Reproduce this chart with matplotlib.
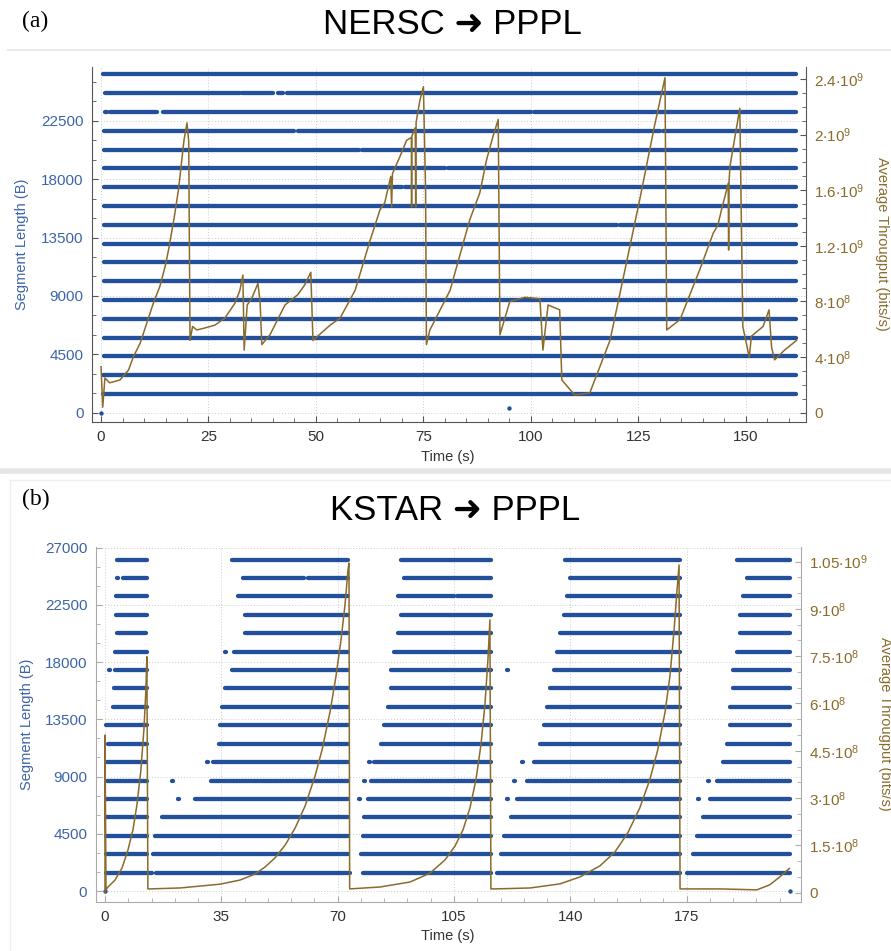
import matplotlib.pyplot as plt
import numpy as np
from matplotlib.collections import LineCollection
from matplotlib.ticker import FixedLocator, MultipleLocator

plt.rcParams['font.family'] = ['Liberation Sans', 'DejaVu Sans']
plt.rcParams['mathtext.fontset'] = 'custom'
plt.rcParams['mathtext.rm'] = 'Liberation Sans'

DOT = '#23509a'
BROWN = '#8a6b2c'
BLUE_TXT = '#3d64a8'
MSS = 1448

# ---------------- (a) NERSC -> PPPL ----------------
# segment-length rows: level (multiples of MSS) -> runs of dense points (time, s)
a_runs = {
    18: [(0.4, 161.6)],
    17: [(0.9, 32.3), (32.9, 40.0), (41.2, 42.4), (43.2, 161.6)],
    16: [(0.9, 1.5), (2.2, 13.0), (14.5, 100.0), (100.8, 161.6)],
    15: [(0.7, 45.0), (45.8, 130.0), (130.8, 161.6)],
    14: [(0.7, 60.0), (60.8, 161.6)],
    13: [(0.7, 80.0), (80.8, 161.6)],
    12: [(0.7, 70.0), (70.8, 161.6)],
    11: [(0.7, 161.6)],
    10: [(0.7, 120.0), (120.8, 161.6)],
    9: [(0.7, 161.6)],
    8: [(0.7, 161.6)],
    7: [(0.7, 161.6)],
    6: [(0.7, 161.6)],
    5: [(0.7, 161.6)],
    4: [(0.7, 161.6)],
    3: [(0.7, 161.6)],
    2: [(0.5, 161.6)],
    1: [(0.5, 161.6)],
}
a_dot_t = [0.0, 94.8]
a_dot_len = [0, 340]

# average throughput (1e9 bits/s)
a_time = [0.0, 0.4, 0.9, 2.0, 4.4, 6.4, 7.5, 9.1, 10.6, 12.2, 13.7, 14.9, 15.7, 17.0,
          18.0, 19.3, 20.0, 20.4, 20.7, 21.3, 22.3, 24.2, 26.5, 28.8, 31.2, 32.3, 33.0,
          33.3, 34.0, 35.1, 36.5, 37.0, 37.4, 39.3, 42.8, 45.8, 47.4, 48.8, 49.3, 53.3,
          55.6, 59.1, 62.6, 64.9, 66.0, 67.4, 67.6, 67.8, 69.5, 71.1, 72.2, 72.25, 72.3,
          73.1, 73.2, 73.3, 74.2, 75.0, 75.5, 75.7, 76.5, 81.2, 85.8, 88.1, 89.7, 91.2,
          92.4, 92.8, 95.1, 98.6, 102.1, 102.8, 104.0, 106.7, 107.2, 110.2, 113.7,
          118.4, 121.9, 125.3, 128.8, 131.2, 131.6, 134.7, 139.3, 142.4, 143.5, 144.5,
          145.1, 145.9, 146.0, 146.1, 146.3, 148.6, 149.3, 150.8, 151.3, 154.0, 155.4,
          156.0, 156.7, 159.0, 161.8]
a_thru = [0.33, 0.04, 0.25, 0.215, 0.235, 0.307, 0.40, 0.50, 0.64, 0.79, 0.91, 1.05, 1.17, 1.40,
          1.60, 1.96, 2.085, 1.95, 0.52, 0.62, 0.595, 0.61, 0.63, 0.68, 0.79, 0.88, 0.99,
          0.45, 0.775, 0.825, 0.93, 0.80, 0.49, 0.56, 0.775, 0.85, 0.92, 1.01, 0.52, 0.63,
          0.68, 0.88, 1.24, 1.46, 1.51, 1.70, 1.48, 1.72, 1.84, 1.96, 1.98, 1.48, 1.99,
          2.05, 1.48, 2.09, 2.25, 2.345, 1.60, 0.49, 0.595, 0.88, 1.39, 1.58, 1.82, 1.99,
          2.11, 0.56, 0.80, 0.83, 0.82, 0.45, 0.775, 0.74, 0.235, 0.127, 0.142,
          0.52, 1.03, 1.53, 2.07, 2.41, 0.595, 0.67, 1.03, 1.29, 1.35, 1.48,
          1.55, 1.65, 1.17, 1.66, 1.77, 2.19, 0.62, 0.40, 0.55, 0.62, 0.74,
          0.47, 0.38, 0.45, 0.52]

# ---------------- (b) KSTAR -> PPPL ----------------
b_runs = {
    18: [(3.5, 12.5), (38.3, 73.0), (89.0, 116.0), (138.5, 173.0), (190.0, 206.0)],
    17: [(3.7, 3.9), (5.5, 12.5), (41.5, 60.0), (61.0, 73.0), (90.0, 116.0), (140.0, 173.0), (193.0, 206.0)],
    16: [(3.4, 12.5), (37.5, 37.7), (40.0, 73.0), (88.0, 105.0), (106.0, 116.0), (139.0, 173.0), (192.0, 206.0)],
    15: [(3.2, 12.5), (42.1, 73.0), (89.0, 116.0), (138.0, 173.0), (191.0, 206.0)],
    14: [(3.6, 12.3), (35.7, 35.9), (42.1, 73.0), (88.0, 116.0), (137.0, 173.0), (191.0, 206.0)],
    13: [(3.0, 12.5), (36.2, 36.4), (38.8, 73.0), (87.0, 116.0), (136.0, 173.0), (190.0, 206.0)],
    12: [(1.2, 1.4), (3.0, 12.6), (37.2, 37.4), (38.3, 73.0), (86.0, 116.0), (121.0, 121.2),
         (135.0, 173.0), (189.0, 206.0)],
    11: [(2.8, 12.5), (36.2, 73.0), (86.0, 116.0), (134.0, 173.0), (189.0, 206.0)],
    10: [(2.4, 12.5), (35.2, 73.0), (85.0, 116.0), (133.0, 173.0), (188.0, 206.0)],
    9: [(0.3, 12.5), (34.7, 73.0), (84.0, 116.0), (132.0, 173.0), (188.0, 206.0)],
    8: [(0.8, 12.5), (34.3, 73.0), (83.0, 116.0), (131.0, 173.0), (187.0, 206.0)],
    7: [(0.6, 12.3), (25.5, 25.7), (30.8, 31.0), (32.5, 73.0), (79.5, 79.7), (81.0, 116.0),
        (125.5, 125.7), (129.0, 173.0), (186.0, 206.0)],
    6: [(0.5, 12.5), (20.3, 20.5), (28.8, 29.0), (31.8, 73.0), (78.0, 78.2), (80.0, 116.0),
        (123.0, 123.2), (127.0, 173.0), (181.5, 181.7), (184.0, 206.0)],
    5: [(0.4, 12.5), (19.5, 19.7), (22.0, 22.2), (27.0, 73.0), (76.5, 76.7), (79.0, 116.0),
        (121.0, 121.2), (124.0, 173.0), (178.5, 178.7), (182.0, 206.0)],
    4: [(0.4, 12.5), (17.0, 73.0), (78.0, 116.0), (122.0, 173.0), (180.0, 206.0)],
    3: [(0.3, 12.5), (15.0, 73.0), (77.5, 116.0), (120.0, 173.0), (178.0, 206.0)],
    2: [(0.3, 12.5), (14.5, 73.0), (77.0, 116.0), (119.0, 173.0), (177.0, 206.0)],
    1: [(0.3, 14.0), (15.3, 73.7), (77.6, 116.0), (118.0, 173.0), (175.0, 206.0)],
}
b_dot_t = [0.0, 206.0]
b_dot_len = [0, 0]

b_time = [0.0, 0.0, 0.3, 0.9, 3.0, 5.1, 6.9, 8.4, 9.6, 10.8, 11.7, 12.3, 12.6, 12.9,
          13.5, 22.6, 28.6, 34.6, 40.6, 45.1, 48.1, 51.1, 54.2, 57.2, 60.2, 63.2, 65.3,
          67.7, 69.5, 71.0, 72.2, 73.1, 73.4, 73.6,
          82.7, 91.8, 97.8, 102.3, 105.3, 107.7, 109.8, 111.6, 113.1, 114.3, 115.2,
          115.8, 116.1,
          117.3, 127.9, 136.9, 142.9, 148.9, 153.4, 157.3, 160.9, 163.9, 166.3, 168.5,
          170.0, 171.2, 172.1, 172.7, 173.0,
          185.0, 196.1, 200.0, 203.0, 205.9]
b_thru = [0.0, 0.50, 0.01, 0.018, 0.04, 0.078, 0.135, 0.199, 0.278, 0.389, 0.516, 0.643, 0.748, 0.012,
          0.012, 0.015, 0.021, 0.027, 0.040, 0.059, 0.081, 0.110, 0.151, 0.205, 0.275, 0.370, 0.453,
          0.573, 0.687, 0.801, 0.912, 1.023, 1.045, 0.012,
          0.018, 0.034, 0.062, 0.104, 0.148, 0.199, 0.269, 0.358, 0.469, 0.596, 0.738,
          0.865, 0.012,
          0.012, 0.015, 0.028, 0.050, 0.085, 0.129, 0.190, 0.269, 0.358, 0.453, 0.573,
          0.690, 0.833, 0.960, 1.039, 0.012,
          0.012, 0.009, 0.025, 0.050, 0.077]


def mtick(v, e):
    return r'$\mathregular{%s{\cdot}10^{%d}}$' % (v, e)


def panel(ax, runs, dot_t, dot_len, t, thru, xlim, ylim, y2lim, xmaj, xmin,
          lmaj, rvals, rlabels, rmin, spine_col):
    segs = []
    for k, spans in runs.items():
        for t0, t1 in spans:
            segs.append([(t0, k * MSS), (t1, k * MSS)])
    ax.add_collection(LineCollection(segs, colors=DOT, linewidths=3.1,
                                     capstyle='round', zorder=3))
    ax.scatter(dot_t, dot_len, s=10, color=DOT, zorder=3, linewidths=0)
    ax.set_xlim(*xlim)
    ax.set_ylim(*ylim)
    ax.xaxis.set_major_locator(MultipleLocator(xmaj))
    ax.xaxis.set_minor_locator(MultipleLocator(xmin))
    ax.yaxis.set_major_locator(FixedLocator(lmaj))
    ax.yaxis.set_minor_locator(MultipleLocator(1500))
    ax.grid(True, which='major', color='#cccccc', linestyle=(0, (1, 2)), linewidth=0.7)
    ax.set_axisbelow(True)
    ax.tick_params(which='both', direction='in', color=spine_col)
    ax.tick_params(which='major', length=4)
    ax.tick_params(which='minor', length=3)
    ax.tick_params(axis='y', labelcolor=BLUE_TXT, labelsize=11, pad=6)
    ax.tick_params(axis='x', labelcolor='#333333', labelsize=11, pad=6)
    for s in ('left', 'bottom'):
        ax.spines[s].set_color(spine_col)
    ax.spines['top'].set_visible(False)
    ax.spines['right'].set_visible(False)

    ax2 = ax.twinx()
    ax2.plot(t, np.array(thru) * 1e9, color=BROWN, linewidth=1.1, zorder=4)
    ax2.set_ylim(*y2lim)
    ax2.yaxis.set_major_locator(FixedLocator(rvals))
    ax2.set_yticklabels(rlabels)
    ax2.yaxis.set_minor_locator(MultipleLocator(rmin))
    ax2.tick_params(which='both', direction='in', color=spine_col)
    ax2.tick_params(which='major', length=4)
    ax2.tick_params(which='minor', length=3)
    ax2.tick_params(axis='y', labelcolor=BROWN, labelsize=11, pad=6)
    for s in ('left', 'bottom', 'top'):
        ax2.spines[s].set_visible(False)
    ax2.spines['right'].set_color(spine_col)
    return ax2


fig = plt.figure(figsize=(8.91, 9.51), dpi=100)
W, H = 891.0, 951.0


def fx(px):
    return px / W


def fy(py):
    return 1 - py / H


# panel (a)
axa = fig.add_axes((fx(92), fy(422), (806 - 92) / W, (422 - 67) / H))
panel(axa, a_runs, a_dot_t, a_dot_len, a_time, a_thru,
      (-2.1, 164.0), (-717, 26640), (-6.7e7, 2.487e9), 25, 5,
      [0, 4500, 9000, 13500, 18000, 22500],
      [0, 4e8, 8e8, 1.2e9, 1.6e9, 2e9, 2.4e9],
      ['0', mtick('4', 8), mtick('8', 8), mtick('1.2', 9), mtick('1.6', 9),
       mtick('2', 9), mtick('2.4', 9)],
      1e8, '#555555')

# panel (b)
axb = fig.add_axes((fx(95.7), fy(902), (800.7 - 95.7) / W, (902 - 547) / H))
panel(axb, b_runs, b_dot_t, b_dot_len, b_time, b_thru,
      (-2.8, 209.3), (-863, 27050), (-2.95e7, 1.096e9), 35, 7,
      [0, 4500, 9000, 13500, 18000, 22500, 27000],
      [0, 1.5e8, 3e8, 4.5e8, 6e8, 7.5e8, 9e8, 1.05e9],
      ['0', mtick('1.5', 8), mtick('3', 8), mtick('4.5', 8), mtick('6', 8),
       mtick('7.5', 8), mtick('9', 8), mtick('1.05', 9)],
      5e7, '#aaaaaa')

# titles, panel letters and axis labels
fig.text(fx(452), fy(24), 'NERSC \u279c PPPL', fontsize=25, ha='center', va='center')
fig.text(fx(455), fy(510), 'KSTAR \u279c PPPL', fontsize=25, ha='center', va='center')
fig.text(fx(22), fy(21), '(a)', fontsize=17, family='Liberation Serif', va='center')
fig.text(fx(22), fy(499), '(b)', fontsize=17, family='Liberation Serif', va='center')

for yc, xl, xr, yt in ((244, 22.5, 882, 457), (724, 27, 885, 936)):
    fig.text(fx(xl), fy(yc), 'Segment Length (B)', rotation=90, fontsize=10.5,
             color=BLUE_TXT, ha='center', va='center')
    fig.text(fx(xr), fy(yc), 'Average Througput (bits/s)', rotation=270, fontsize=10.5,
             color=BROWN, ha='center', va='center')
    fig.text(fx(448), fy(yt), 'Time (s)', fontsize=10.5, color='#333333',
             ha='center', va='center')

# light screenshot frame lines
fig.add_artist(plt.Line2D([fx(8), 1], [fy(50), fy(50)], color='#e6e6e6', lw=1.2))
fig.add_artist(plt.Line2D([0, 1], [fy(471), fy(471)], color='#e6e6e6', lw=4))
fig.add_artist(plt.Line2D([fx(10), 1], [fy(480), fy(480)], color='#eeeeee', lw=1))
fig.add_artist(plt.Line2D([fx(10), fx(10)], [fy(480), 0], color='#eeeeee', lw=1))

fig.savefig('out.png', dpi=100)
